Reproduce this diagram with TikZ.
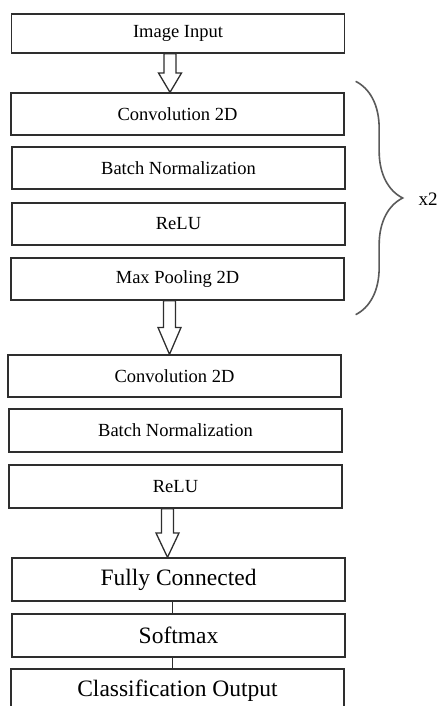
\documentclass[tikz,border=0pt]{standalone}
\usepackage{fontspec}
\setmainfont{Liberation Serif}
\usetikzlibrary{calc,decorations.pathreplacing}
\definecolor{edge}{HTML}{2E2E2E}
\definecolor{brc}{HTML}{5A5A5A}
\tikzset{
  box/.style={draw=edge,line width=1.3pt,minimum width=333pt,minimum height=42pt,inner sep=0pt,font=\fontsize{18.5}{20}\selectfont},
  boxl/.style={box,font=\fontsize{23.5}{26}\selectfont},
  fat/.style={draw=edge,line width=1.3pt,fill=white,line join=miter},
  ln/.style={draw=edge,line width=1.3pt},
  brace/.style={draw=brc,line width=1.6pt,decorate,decoration={brace,amplitude=47pt}},
  rep/.style={font=\fontsize{19}{20}\selectfont},
}
% block arrow from the bottom of one box to the top of the next
\newcommand\fatarrow[2]{%
  \draw[fat] let \p1=([xshift=-8pt]#1.south), \p2=(#2.north), \n1={(\y1+\y2)/2} in
    (\x1-6pt,\y1) -- (\x1+6pt,\y1) -- (\x1+6pt,\n1) -- (\x1+11.5pt,\n1) -- (\x1,\y2)
    -- (\x1-11.5pt,\n1) -- (\x1-6pt,\n1) -- cycle;}

\begin{document}
\begin{tikzpicture}[x=1pt,y=1pt]
\useasboundingbox (0,0) rectangle (443,706);
\clip (0,0) rectangle (443,706);
\node[box,minimum height=39pt] (inp) at (178,672.5) {Image Input};
\node[box] (convA) at (177.5,592) {Convolution 2D};
\node[box] (bnA) at (178.5,538) {Batch Normalization};
\node[box] (reluA) at (178.5,482) {ReLU};
\node[box] (poolA) at (177.5,427) {Max Pooling 2D};
\node[box] (convB) at (174.5,330) {Convolution 2D};
\node[box,minimum height=43pt] (bnB) at (175.5,275.5) {Batch Normalization};
\node[box,minimum height=43pt] (reluB) at (175.5,219.5) {ReLU};
\node[boxl,minimum height=43pt] (fc) at (178.5,126.5) {Fully Connected};
\node[boxl,minimum height=43pt] (soft) at (178.5,70.5) {Softmax};
\node[boxl,minimum height=43pt] (cls) at (177.5,15.5) {Classification Output};
\fatarrow{inp}{convA}
\fatarrow{poolA}{convB}
\fatarrow{reluB}{fc}
\draw[ln] ([xshift=-6pt]fc.south) -- ([xshift=-6pt]fc.south |- soft.north);
\draw[ln] ([xshift=-6pt]soft.south) -- ([xshift=-6pt]soft.south |- cls.north);
% repeat block
\draw[brace] ([xshift=11pt,yshift=11pt]convA.north east) -- ([xshift=11pt,yshift=-14pt]poolA.south east);
\node[rep,anchor=west] (times) at (415,507) {x2};
\end{tikzpicture}
\end{document}
